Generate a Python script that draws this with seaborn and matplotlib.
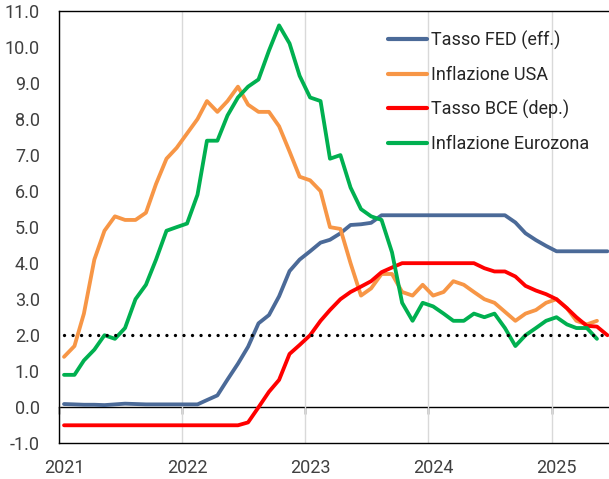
import numpy as np
import pandas as pd
import matplotlib
matplotlib.use("Agg")
import matplotlib.pyplot as plt
import matplotlib.dates as mdates
from matplotlib.ticker import FormatStrFormatter, NullFormatter
import seaborn as sns

# ---------------- data (monthly, Jan 2021 - Jun 2025) ----------------
months = pd.date_range("2021-01-01", "2025-06-01", freq="MS")
year_labels = ["2021", "2022", "2023", "2024", "2025"]
y_ticks = [-1.0, 0.0, 1.0, 2.0, 3.0, 4.0, 5.0, 6.0, 7.0, 8.0, 9.0, 10.0, 11.0]

fed_rate = [0.09, 0.08, 0.07, 0.07, 0.06, 0.08, 0.10, 0.09, 0.08, 0.08, 0.08, 0.08,
            0.08, 0.08, 0.20, 0.33, 0.77, 1.21, 1.68, 2.33, 2.56, 3.08, 3.78, 4.10,
            4.33, 4.57, 4.65, 4.83, 5.06, 5.08, 5.12, 5.33, 5.33, 5.33, 5.33, 5.33,
            5.33, 5.33, 5.33, 5.33, 5.33, 5.33, 5.33, 5.33, 5.13, 4.83, 4.64, 4.48,
            4.33, 4.33, 4.33, 4.33, 4.33, 4.33]
us_infl = [1.4, 1.7, 2.6, 4.1, 4.9, 5.3, 5.2, 5.2, 5.4, 6.2, 6.9, 7.2,
           7.6, 8.0, 8.5, 8.2, 8.5, 8.9, 8.4, 8.2, 8.2, 7.8, 7.1, 6.4,
           6.3, 6.0, 5.0, 4.95, 4.0, 3.1, 3.3, 3.7, 3.7, 3.2, 3.1, 3.4,
           3.1, 3.2, 3.5, 3.4, 3.2, 3.0, 2.9, 2.65, 2.4, 2.6, 2.7, 2.9,
           3.0, 2.75, 2.4, 2.3, 2.4, np.nan]
ecb_rate = [-0.5, -0.5, -0.5, -0.5, -0.5, -0.5, -0.5, -0.5, -0.5, -0.5, -0.5, -0.5,
            -0.5, -0.5, -0.5, -0.5, -0.5, -0.5, -0.42, 0.0, 0.43, 0.76, 1.48, 1.73,
            2.0, 2.4, 2.7, 3.0, 3.2, 3.35, 3.5, 3.75, 3.88, 4.0, 4.0, 4.0,
            4.0, 4.0, 4.0, 4.0, 4.0, 3.86, 3.77, 3.77, 3.63, 3.37, 3.24, 3.14,
            3.0, 2.75, 2.5, 2.26, 2.24, 2.0]
ez_infl = [0.9, 0.9, 1.3, 1.6, 2.0, 1.9, 2.2, 3.0, 3.4, 4.1, 4.9, 5.0,
           5.1, 5.9, 7.4, 7.4, 8.1, 8.6, 8.9, 9.1, 9.9, 10.6, 10.1, 9.2,
           8.6, 8.5, 6.9, 7.0, 6.1, 5.5, 5.3, 5.2, 4.3, 2.9, 2.4, 2.9,
           2.8, 2.6, 2.4, 2.4, 2.6, 2.5, 2.6, 2.2, 1.7, 2.0, 2.2, 2.4,
           2.5, 2.3, 2.2, 2.2, 1.9, np.nan]
target = 2.0

series_names = ["Tasso FED (eff.)", "Inflazione USA", "Tasso BCE (dep.)", "Inflazione Eurozona"]
series_values = [fed_rate, us_infl, ecb_rate, ez_infl]
colors = ["#4B6A98", "#F79646", "#FF0000", "#00B050"]

# points sit in the middle of each month
dates = months + pd.Timedelta(days=14)
df = pd.concat(
    [pd.DataFrame({"date": dates, "value": vals, "series": name})
     for name, vals in zip(series_names, series_values)],
    ignore_index=True,
).dropna()

# ---------------- style ----------------
sns.set_style("white")
plt.rcParams["font.family"] = ["Roboto", "DejaVu Sans"]
text_color = "#404040"

fig = plt.figure(figsize=(6.09, 4.79), dpi=100)
ax = fig.add_axes([59.3 / 609, 1 - 443.3 / 479, (612.8 - 59.3) / 609, (443.3 - 11) / 479])

sns.lineplot(data=df, x="date", y="value", hue="series", hue_order=series_names,
             palette=colors, linewidth=2.75, estimator=None, ax=ax, zorder=3)

# 2% target dotted line
ax.plot([dates[0], dates[-1]], [target, target], color="black", linewidth=2.4,
        linestyle=(0, (0.01, 2.55)), dash_capstyle="round", zorder=4)

# axes limits / ticks
ax.set_xlim(pd.Timestamp("2021-01-01"), pd.Timestamp("2025-07-01"))
ax.set_ylim(-1, 11)
ax.set_yticks(y_ticks)
ax.yaxis.set_major_formatter(FormatStrFormatter("%.1f"))

ax.xaxis.set_major_locator(mdates.YearLocator())
ax.xaxis.set_major_formatter(NullFormatter())
ax.set_xticks([pd.Timestamp(f"{y}-01-16") for y in year_labels], labels=year_labels, minor=True)
ax.tick_params(axis="x", which="both", length=0)
ax.tick_params(axis="x", which="minor", pad=11, labelsize=13, labelcolor=text_color)
ax.tick_params(axis="y", length=0, pad=14, labelsize=13, labelcolor=text_color)
ax.set_xlabel("")
ax.set_ylabel("")

ax.grid(False)
ax.grid(axis="x", which="major", color="#D9D9D9", linewidth=1.0, zorder=0)
ax.set_axisbelow(True)

for sp in ax.spines.values():
    sp.set_visible(True)
    sp.set_color("black")
    sp.set_linewidth(1.0)

# horizontal axis line at zero with year tick marks
sec = ax.secondary_xaxis(0, transform=ax.transData)
sec.set_xticks(ax.get_xticks())
sec.tick_params(axis="x", direction="out", length=5, width=1.0, color="black", labelbottom=False)
sec.spines["bottom"].set_color("black")
sec.spines["bottom"].set_linewidth(1.0)

# legend
handles, labels = ax.get_legend_handles_labels()
for h in handles:
    h.set_linewidth(3.0)
ax.legend(handles, labels, loc="upper left", bbox_to_anchor=(0.594, 0.954),
          frameon=False, fontsize=13, handlelength=2.15, handletextpad=0.2,
          labelspacing=0.88, borderpad=0, borderaxespad=0, labelcolor="#262626")

fig.savefig("out.png", dpi=100)
